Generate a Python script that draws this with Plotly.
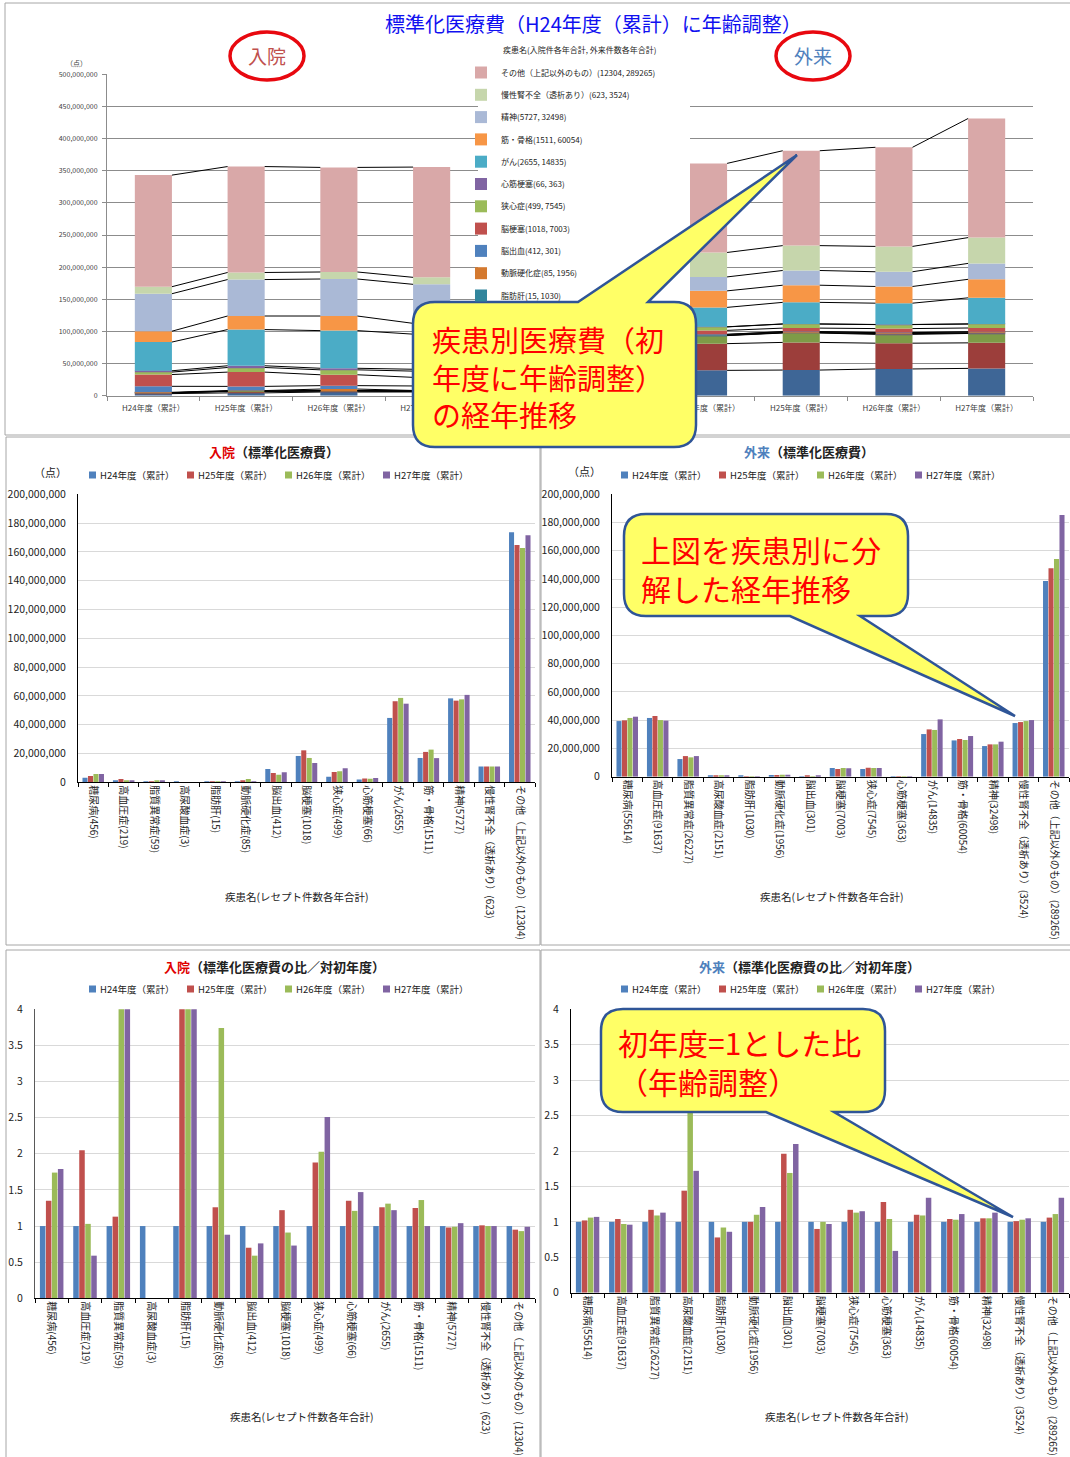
import plotly.graph_objects as go

W, H = 1070, 1457
FONT = "Noto Sans CJK JP, Noto Sans, sans-serif"

# ---------------- data ----------------
diseases = ["糖尿病", "高血圧症", "脂質異常症", "高尿酸血症", "脂肪肝", "動脈硬化症",
            "脳出血", "脳梗塞", "狭心症", "心筋梗塞", "がん", "筋・骨格", "精神",
            "慢性腎不全（透析あり）", "その他（上記以外のもの）"]
in_counts = [456, 219, 59, 3, 15, 85, 412, 1018, 499, 66, 2655, 1511, 5727, 623, 12304]
out_counts = [55614, 91637, 26227, 2151, 1030, 1956, 301, 7003, 7545, 363, 14835, 60054,
              32498, 3524, 289265]
years = ["H24年度（累計）", "H25年度（累計）", "H26年度（累計）", "H27年度（累計）"]
year_idx = [0, 1, 2, 3]

# 入院 standardized medical cost (points), one list per fiscal year, in disease order
in_h24 = [3.2e6, 1.15e6, 0.2e6, 0.1e6, 0.05e6, 0.6e6, 9.3e6, 18.3e6, 3.85e6, 2.0e6,
          44.7e6, 16.9e6, 58.3e6, 10.9e6, 173.6e6]
in_h25 = [4.4e6, 2.3e6, 0.23e6, 0.0, 0.3e6, 0.75e6, 6.5e6, 22.2e6, 7.2e6, 2.7e6,
          56.3e6, 21.1e6, 56.7e6, 11.0e6, 164.8e6]
in_h26 = [5.7e6, 1.2e6, 0.9e6, 0.0, 0.3e6, 2.25e6, 5.3e6, 16.9e6, 7.7e6, 2.4e6,
          58.6e6, 22.7e6, 57.6e6, 10.9e6, 162.7e6]
in_h27 = [5.8e6, 0.7e6, 0.8e6, 0.0, 0.3e6, 0.55e6, 7.0e6, 13.4e6, 9.7e6, 2.9e6,
          54.6e6, 16.8e6, 60.7e6, 10.9e6, 171.5e6]

# 外来 standardized medical cost (points)
out_h24 = [39.4e6, 41.6e6, 12.5e6, 0.35e6, 0.3e6, 1.2e6, 0.15e6, 6.1e6, 5.4e6, 0.2e6,
           30.2e6, 25.7e6, 21.7e6, 38.0e6, 138.6e6]
out_h25 = [39.9e6, 43.0e6, 14.6e6, 0.5e6, 0.23e6, 1.2e6, 0.3e6, 5.4e6, 6.3e6, 0.26e6,
           33.5e6, 26.7e6, 22.9e6, 38.7e6, 147.6e6]
out_h26 = [41.6e6, 40.1e6, 13.7e6, 1.1e6, 0.27e6, 1.3e6, 0.25e6, 6.1e6, 6.2e6, 0.21e6,
           33.1e6, 26.0e6, 22.9e6, 39.4e6, 154.2e6]
out_h27 = [42.5e6, 39.7e6, 14.6e6, 0.6e6, 0.26e6, 1.45e6, 0.32e6, 5.9e6, 6.2e6, 0.12e6,
           40.6e6, 28.8e6, 24.8e6, 40.1e6, 185.3e6]

# ratio to first year (入院)
in_r24 = [1, 1, 1, 1, 1, 1, 1, 1, 1, 1, 1, 1, 1, 1, 1]
in_r25 = [1.35, 2.05, 1.13, 0, 6.0, 1.26, 0.70, 1.22, 1.88, 1.35, 1.26, 1.25, 0.98, 1.01, 0.95]
in_r26 = [1.74, 1.03, 4.5, 0, 6.0, 3.74, 0.59, 0.91, 2.03, 1.21, 1.31, 1.36, 0.99, 1.00, 0.93]
in_r27 = [1.79, 0.59, 4.1, 0, 6.0, 0.88, 0.76, 0.73, 2.51, 1.47, 1.22, 1.00, 1.04, 1.00, 0.99]

# ratio to first year (外来)
out_r24 = [1, 1, 1, 1, 1, 1, 1, 1, 1, 1, 1, 1, 1, 1, 1]
out_r25 = [1.02, 1.04, 1.17, 1.44, 0.78, 1.00, 1.96, 0.90, 1.17, 1.28, 1.10, 1.04, 1.05, 1.01, 1.06]
out_r26 = [1.06, 0.97, 1.09, 3.2, 0.92, 1.10, 1.69, 1.00, 1.13, 1.04, 1.09, 1.03, 1.05, 1.03, 1.11]
out_r27 = [1.07, 0.96, 1.13, 1.72, 0.86, 1.21, 2.10, 0.97, 1.15, 0.59, 1.34, 1.11, 1.13, 1.05, 1.34]

# ---------------- styles ----------------
year_colors = ["#4F81BD", "#C0504D", "#9BBB59", "#8064A2"]
stack_colors = ["#3E6696", "#9C3E3B", "#7E9B47", "#664F83", "#31859C", "#D4792F",
                "#4F81BD", "#C0504D", "#9BBB59", "#8064A2", "#4BACC6", "#F79646",
                "#AAB9D6", "#C6D6AC", "#D9A8A8"]

in_labels = [f"{d}({c})" for d, c in zip(diseases, in_counts)]
out_labels = [f"{d}({c})" for d, c in zip(diseases, out_counts)]
legend_labels = [f"{d}({a}, {b})" for d, a, b in zip(diseases, in_counts, out_counts)]


def px(x):
    return x / W


def py(y):
    return 1 - y / H


fig = go.Figure()


def add_stack(series, xa, ya, in_legend):
    base = [0.0, 0.0, 0.0, 0.0]
    for k in range(len(diseases)):
        vals = [series[j][k] for j in range(4)]
        fig.add_trace(go.Bar(
            x=year_idx, y=vals, base=base[:], width=0.4, offsetgroup="stk" + xa,
            marker=dict(color=stack_colors[k], line=dict(width=0)),
            name=legend_labels[k], legendgroup=diseases[k], legendrank=100 - k,
            showlegend=bool(in_legend and k >= 4), legend="legend",
            xaxis=xa, yaxis=ya))
        base = [b + v for b, v in zip(base, vals)]
        lx, ly = [], []
        for i in range(3):
            lx += [year_idx[i] + 0.2, year_idx[i + 1] - 0.2, None]
            ly += [base[i], base[i + 1], None]
        fig.add_trace(go.Scatter(x=lx, y=ly, mode="lines",
                                 line=dict(color="black", width=1),
                                 showlegend=False, hoverinfo="skip",
                                 xaxis=xa, yaxis=ya))


add_stack([in_h24, in_h25, in_h26, in_h27], "x", "y", True)
add_stack([out_h24, out_h25, out_h26, out_h27], "x2", "y2", False)


def add_grouped(series_list, labels, xa, ya):
    for j in range(4):
        fig.add_trace(go.Bar(x=labels, y=series_list[j], name=years[j],
                             marker=dict(color=year_colors[j], line=dict(width=0)),
                             xaxis=xa, yaxis=ya, showlegend=False))


add_grouped([in_h24, in_h25, in_h26, in_h27], in_labels, "x3", "y3")
add_grouped([out_h24, out_h25, out_h26, out_h27], out_labels, "x4", "y4")
add_grouped([in_r24, in_r25, in_r26, in_r27], in_labels, "x5", "y5")
add_grouped([out_r24, out_r25, out_r26, out_r27], out_labels, "x6", "y6")

# ---------------- axes ----------------
top_y_dom = [py(395.7), py(74.3)]
grid_top = "#8C8C8C"
common_x_top = dict(tickmode="array", tickvals=year_idx, ticktext=years,
                    tickfont=dict(size=8, color="#404040"), showgrid=False,
                    showline=True, linecolor=grid_top, ticks="", automargin=False,
                    ticklabelstandoff=5,
                    minor=dict(tickmode="linear", tick0=-0.5, dtick=1, ticks="outside",
                               ticklen=4, tickcolor=grid_top, showgrid=False),
                    zeroline=False, fixedrange=True)
fig.update_layout(
    xaxis=dict(domain=[px(107), px(478)], range=[-0.5, 3.5], anchor="y", **common_x_top),
    yaxis=dict(domain=top_y_dom, range=[0, 500e6], dtick=50e6, tickformat=",.0f",
               tickfont=dict(size=7, color="#404040"), gridcolor=grid_top, gridwidth=1,
               showline=True, linecolor=grid_top, ticks="outside", ticklen=4,
               tickcolor=grid_top, zeroline=False, automargin=False, anchor="x",
               ticklabelstandoff=3, fixedrange=True),
    xaxis2=dict(domain=[px(690), px(1033)], range=[-0.2, 3.5], anchor="y2", **common_x_top),
    yaxis2=dict(domain=top_y_dom, range=[0, 500e6], dtick=50e6, showticklabels=False,
                gridcolor=grid_top, showline=False, zeroline=False, automargin=False,
                anchor="x2", fixedrange=True),
)


def cat_x(dom):
    return dict(domain=dom, tickangle=90, tickfont=dict(size=10, color="#222"),
                tickson="boundaries", ticks="outside", ticklen=4, tickcolor="#000",
                showline=True, linecolor="#000", showgrid=False, automargin=False,
                fixedrange=True)


def val_y(dom, rng, dtick, fmt, lc):
    return dict(domain=dom, range=rng, dtick=dtick, tickformat=fmt,
                tickfont=dict(size=10.5, color="#222"), gridcolor="#D9D9D9",
                showline=True, linecolor=lc, zeroline=False, ticks="",
                automargin=False, ticklabelstandoff=9, fixedrange=True)


fig.update_layout(
    xaxis3=dict(anchor="y3", **cat_x([px(78), px(535)])),
    yaxis3=dict(anchor="x3", **val_y([py(782.3), py(494.3)], [0, 200e6], 20e6, ",.0f", "#000")),
    xaxis4=dict(anchor="y4", **cat_x([px(612), px(1069)])),
    yaxis4=dict(anchor="x4", **val_y([py(776.7), py(494.3)], [0, 200e6], 20e6, ",.0f", "#000")),
    xaxis5=dict(anchor="y5", **cat_x([px(35), px(535)])),
    yaxis5=dict(anchor="x5", **val_y([py(1298.3), py(1009.3)], [0, 4], 0.5, "", "#595959")),
    xaxis6=dict(anchor="y6", **cat_x([px(571), px(1069)])),
    yaxis6=dict(anchor="x6", **val_y([py(1292.7), py(1009.3)], [0, 4], 0.5, "", "#000")),
)

# ---------------- top legend ----------------
fig.update_layout(
    legend=dict(x=px(461), y=py(58), xanchor="left", yanchor="top",
                font=dict(size=8, color="#222"), tracegroupgap=3.3,
                traceorder="grouped", bgcolor="rgba(0,0,0,0)"),
)

# ---------------- shapes ----------------
shapes = []
border = dict(color="#A6A6A6", width=1)
for (x0, y0, x1, y1) in [(5, 3, 1075, 435), (6, 437, 540, 945), (541, 437, 1075, 945),
                         (6, 950, 540, 1462), (541, 950, 1075, 1462)]:
    shapes.append(dict(type="rect", xref="paper", yref="paper", x0=px(x0), x1=px(x1),
                       y0=py(y0), y1=py(y1), line=border, layer="below"))

for cx in (267, 813):
    shapes.append(dict(type="circle", xref="paper", yref="paper", x0=px(cx - 37),
                       x1=px(cx + 37), y0=py(32), y1=py(80),
                       line=dict(color="#E8080F", width=3.5), layer="above"))

ann = []


def text(x, y, s, size, color="#222", xanchor="center", yanchor="middle", align="center"):
    ann.append(dict(x=px(x), y=py(y), xref="paper", yref="paper", text=s, showarrow=False,
                    font=dict(size=size, color=color, family=FONT), xanchor=xanchor,
                    yanchor=yanchor, align=align))


# year legends for the four grouped charts (square key + label)
def year_legend(x_start, y):
    for j, (lab, col) in enumerate(zip(years, year_colors)):
        xm = x_start + 98 * j
        shapes.append(dict(type="rect", xref="paper", yref="paper",
                           x0=px(xm), x1=px(xm + 7), y0=py(y + 3.5), y1=py(y - 3.5),
                           fillcolor=col, line=dict(width=0), layer="above"))
        text(xm + 9, y, lab, 9.5, xanchor="left")


year_legend(89, 475)
year_legend(621, 475)
year_legend(89, 989)
year_legend(621, 989)


def P(x, y):
    return f"{px(x):.5f},{py(y):.5f}"


def callout(x0, y0, x1, y1, t1, t2, tip, top, r=22):
    if top:
        d = (f"M{P(x0 + r, y0)} L{P(t1, y0)} L{P(*tip)} L{P(t2, y0)} L{P(x1 - r, y0)} "
             f"Q{P(x1, y0)} {P(x1, y0 + r)} L{P(x1, y1 - r)} Q{P(x1, y1)} {P(x1 - r, y1)} "
             f"L{P(x0 + r, y1)} Q{P(x0, y1)} {P(x0, y1 - r)} L{P(x0, y0 + r)} "
             f"Q{P(x0, y0)} {P(x0 + r, y0)} Z")
    else:
        d = (f"M{P(x0 + r, y0)} L{P(x1 - r, y0)} Q{P(x1, y0)} {P(x1, y0 + r)} "
             f"L{P(x1, y1 - r)} Q{P(x1, y1)} {P(x1 - r, y1)} L{P(t2, y1)} L{P(*tip)} "
             f"L{P(t1, y1)} L{P(x0 + r, y1)} Q{P(x0, y1)} {P(x0, y1 - r)} "
             f"L{P(x0, y0 + r)} Q{P(x0, y0)} {P(x0 + r, y0)} Z")
    return dict(type="path", xref="paper", yref="paper", path=d, fillcolor="#FFFF66",
                line=dict(color="#2F5597", width=2.5), layer="above")


shapes.append(callout(413, 302, 696, 447, 578, 648, (797, 155), True))
shapes.append(callout(624, 514, 908, 616, 790, 860, (1015, 716), False))
shapes.append(callout(601, 1009, 885, 1112, 766, 834, (1013, 1217), False))
fig.update_layout(shapes=shapes)

# ---------------- annotations ----------------
text(593, 23, "標準化医療費（H24年度（累計）に年齢調整）", 20, "#1010F0")
text(267, 56, "入院", 19, "#C0504D")
text(813, 56, "外来", 19, "#4F81BD")
text(501, 50, "疾患名(入院件各年合計, 外来件数各年合計)", 8, xanchor="left")
text(76, 63, "（点）", 7, "#404040")
text(50, 472, "（点）", 11)
text(584, 471, "（点）", 11)
text(274, 452, "<b><span style='color:#E00000'>入院</span>（標準化医療費）</b>", 13)
text(809, 452, "<b><span style='color:#4F81BD'>外来</span>（標準化医療費）</b>", 13)
text(274, 966, "<b><span style='color:#E00000'>入院</span>（標準化医療費の比／対初年度）</b>", 13)
text(809, 966, "<b><span style='color:#4F81BD'>外来</span>（標準化医療費の比／対初年度）</b>", 13)
text(297, 896, "疾患名(レセプト件数各年合計)", 10.5)
text(832, 896, "疾患名(レセプト件数各年合計)", 10.5)
text(302, 1416, "疾患名(レセプト件数各年合計)", 10.5)
text(837, 1416, "疾患名(レセプト件数各年合計)", 10.5)
text(430, 377, "疾患別医療費（初<br>年度に年齢調整）<br>の経年推移", 29, "#FF0000",
     xanchor="left", align="left")
text(639, 568.5, "上図を疾患別に分<br>解した経年推移", 30, "#FF0000", xanchor="left", align="left")
text(616, 1061.5, "初年度=1とした比<br>（年齢調整）", 30, "#FF0000", xanchor="left", align="left")

fig.update_layout(
    annotations=ann,
    width=W, height=H, autosize=False,
    margin=dict(l=0, r=0, t=0, b=0),
    paper_bgcolor="white", plot_bgcolor="white",
    font=dict(family=FONT, color="#222"),
    barmode="group", bargap=0.28, bargroupgap=0.08,
    showlegend=True,
)

fig.write_html("out.html", config={"displayModeBar": False},
               post_script="document.body.style.margin='0';document.body.style.overflow='hidden';")
